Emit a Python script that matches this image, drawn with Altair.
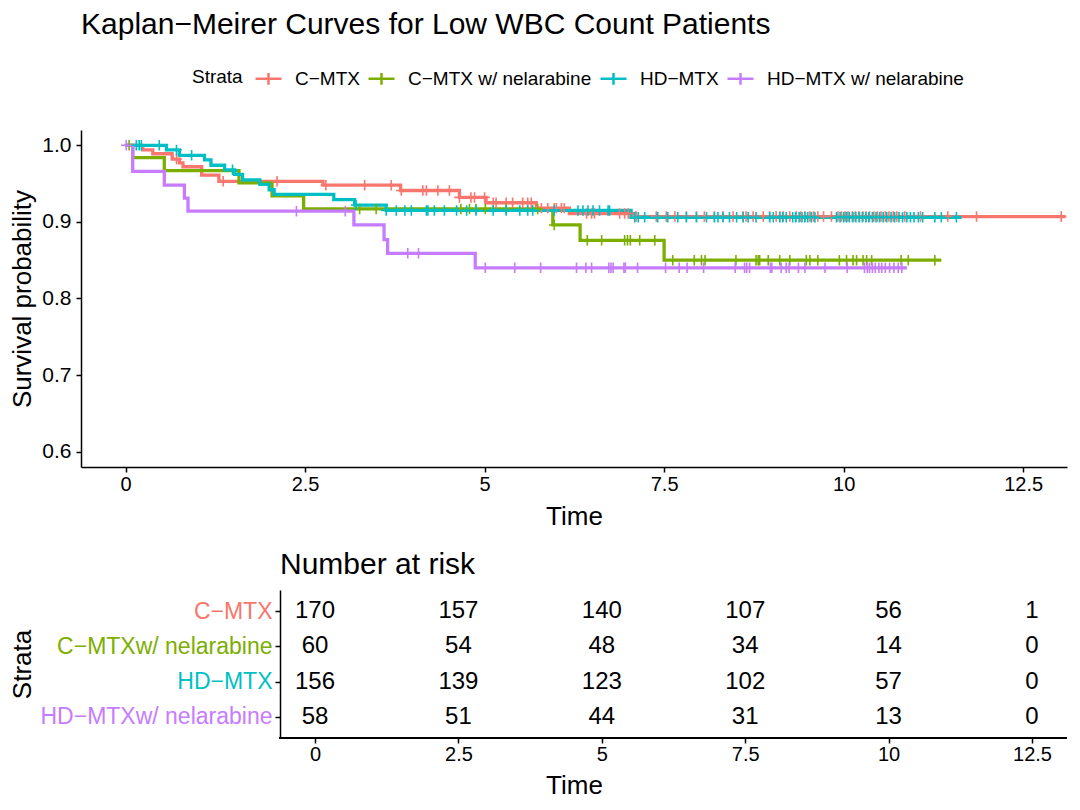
import altair as alt
import pandas as pd

STRATA = ["C−MTX", "C−MTX w/ nelarabine", "HD−MTX", "HD−MTX w/ nelarabine"]
RISK_LABELS = ["C−MTX", "C−MTXw/ nelarabine", "HD−MTX", "HD−MTXw/ nelarabine"]
COLORS = ["#F8766D", "#7CAE00", "#00BFC4", "#C77CFF"]

# Kaplan-Meier step points (time, survival)
cmtx_t = [0, 0.24, 0.38, 0.65, 0.75, 0.80, 1.06, 1.30, 2.75, 3.83, 4.65, 5.02, 5.72, 6.18, 7.10]
cmtx_s = [1.0, 0.994, 0.989, 0.982, 0.977, 0.972, 0.961, 0.953, 0.948, 0.941, 0.932, 0.925, 0.918, 0.911, 0.907]
cmtx_end = 13.09

cnel_t = [0, 0.10, 0.54, 1.58, 2.04, 2.48, 5.95, 6.33, 7.50]
cnel_s = [1.0, 0.984, 0.967, 0.951, 0.934, 0.917, 0.896, 0.876, 0.850]
cnel_end = 11.36

hd_t = [0, 0.57, 0.75, 1.10, 1.19, 1.38, 1.52, 1.63, 1.87, 2.00, 2.07, 2.90, 3.19, 3.63, 7.04]
hd_s = [1.0, 0.994, 0.987, 0.981, 0.974, 0.968, 0.962, 0.955, 0.949, 0.942, 0.936, 0.929, 0.922, 0.915, 0.906]
hd_end = 11.64

hdnel_t = [0, 0.10, 0.54, 0.82, 0.87, 3.18, 3.60, 3.65, 4.87]
hdnel_s = [1.0, 0.966, 0.948, 0.931, 0.914, 0.896, 0.877, 0.859, 0.840]
hdnel_end = 10.88

# censoring times
cmtx_c = [0.71, 1.36, 2.11, 2.79, 3.33, 3.70, 3.84, 4.14, 4.19, 4.35, 4.51, 4.65, 4.81, 4.86,
          5.00, 5.12, 5.16, 5.30, 5.39, 5.53, 5.60, 5.65, 5.79, 5.88, 5.97, 6.00, 6.07, 6.11,
          6.42, 6.49, 6.53, 6.88, 6.95, 7.00, 7.11, 7.39, 7.53, 7.65, 7.81, 7.95, 8.06, 8.20,
          8.32, 8.46, 8.60, 8.64, 8.74, 8.88, 8.97, 9.06, 9.11, 9.16, 9.25, 9.34, 9.40, 9.46,
          9.53, 9.58, 9.64, 9.72, 9.83, 9.92, 9.97, 10.02, 10.06, 10.12, 10.16, 10.21, 10.27,
          10.31, 10.36, 10.42, 10.47, 10.52, 10.58, 10.63, 10.69, 10.74, 10.85, 11.07, 11.45,
          11.85, 13.03]
cnel_c = [0.05, 3.26, 3.49, 4.67, 4.79, 4.88, 5.01, 5.30, 5.74, 5.97, 6.43, 6.63, 6.95, 6.99,
          7.03, 7.16, 7.37, 7.62, 7.92, 8.02, 8.07, 8.50, 8.78, 8.81, 8.83, 8.95, 9.11, 9.25,
          9.48, 9.53, 9.64, 9.94, 10.04, 10.13, 10.18, 10.27, 10.32, 10.39, 10.80, 10.90, 11.27]
hd_c = [0.15, 0.19, 0.22, 0.47, 0.71, 0.92, 1.49, 3.21, 3.63, 3.77, 3.89, 3.98, 4.19, 4.21,
        4.30, 4.44, 4.61, 4.75, 4.88, 5.12, 5.30, 5.49, 5.60, 5.67, 5.97, 6.30, 6.37, 6.44,
        6.51, 6.60, 6.72, 6.74, 7.09, 7.14, 7.23, 7.41, 7.55, 7.69, 7.81, 7.95, 8.09, 8.20,
        8.25, 8.32, 8.41, 8.51, 8.60, 8.67, 8.78, 8.97, 9.02, 9.11, 9.15, 9.20, 9.29, 9.33,
        9.38, 9.42, 9.46, 9.50, 9.55, 9.60, 9.90, 9.95, 10.00, 10.04, 10.08, 10.13, 10.17,
        10.22, 10.26, 10.31, 10.35, 10.40, 10.45, 10.50, 10.55, 10.60, 10.66, 10.71, 10.77,
        10.82, 10.88, 10.93, 10.98, 11.04, 11.10, 11.27, 11.36, 11.57]
hdnel_c = [0.01, 2.38, 3.06, 3.93, 4.08, 5.01, 5.42, 5.78, 6.28, 6.41, 6.49, 6.73, 6.76, 6.79,
           6.94, 6.96, 7.13, 7.52, 7.71, 7.82, 8.05, 8.49, 8.62, 8.65, 8.69, 8.98, 9.00, 9.13,
           9.20, 9.24, 9.37, 9.46, 9.74, 10.05, 10.29, 10.33, 10.36, 10.40, 10.44, 10.49,
           10.53, 10.58, 10.64, 10.70, 10.76, 10.81]

# number at risk table
RISK_TIMES = [0, 2.5, 5, 7.5, 10, 12.5]
risk_cmtx = [170, 157, 140, 107, 56, 1]
risk_cnel = [60, 54, 48, 34, 14, 0]
risk_hd = [156, 139, 123, 102, 57, 0]
risk_hdnel = [58, 51, 44, 31, 13, 0]

X_TICKS = [0, 2.5, 5, 7.5, 10, 12.5]
Y_TICKS = [0.6, 0.7, 0.8, 0.9, 1.0]

curves = [
    (STRATA[0], cmtx_t, cmtx_s, cmtx_end, cmtx_c),
    (STRATA[1], cnel_t, cnel_s, cnel_end, cnel_c),
    (STRATA[2], hd_t, hd_s, hd_end, hd_c),
    (STRATA[3], hdnel_t, hdnel_s, hdnel_end, hdnel_c),
]


def surv_at(ts, ss, t):
    val = ss[0]
    for ti, si in zip(ts, ss):
        if ti <= t:
            val = si
    return val


step_rows, cens_rows = [], []
for k, (name, ts, ss, end, cs) in enumerate(curves):
    for ti, si in zip(ts, ss):
        step_rows.append({"strata": name, "time": ti, "surv": si, "k": k})
    step_rows.append({"strata": name, "time": end, "surv": ss[-1], "k": k})
    for c in cs:
        cens_rows.append({"strata": name, "time": c, "surv": surv_at(ts, ss, c), "k": k})
steps = pd.DataFrame(step_rows)
cens = pd.DataFrame(cens_rows)

risk_rows = []
for lab, vals in zip(RISK_LABELS, [risk_cmtx, risk_cnel, risk_hd, risk_hdnel]):
    for t, n in zip(RISK_TIMES, vals):
        risk_rows.append({"label": lab, "time": t, "n": n})
risk = pd.DataFrame(risk_rows)

FONT = "Liberation Sans"
PLUS = "M-1,0L1,0M0,-1L0,1"
X_MIN, X_MAX = -0.62, 13.11
TABLE_X_MIN = -4.08          # table panel starts further right: extra room for row labels
TABLE_AXIS_SHIFT = -199      # y axis of the table moved inside to the x = -0.62 position
LBL = "format(datum.value, '~g')"

legend = alt.Legend(
    orient="none", legendX=111, legendY=-66, direction="horizontal",
    title="Strata", titleOrient="left", titleFontSize=19, titleFontWeight="normal",
    titleFont=FONT, titleColor="black", titlePadding=11, titleAnchor="middle",
    titleBaseline="middle",
    labelFontSize=19, labelFont=FONT, labelColor="black", labelOffset=12, labelLimit=400,
    columnPadding=3, symbolType="M-1,0L1,0M0,-0.45L0,0.45", symbolSize=676,
    symbolStrokeWidth=2.5,
)

color = alt.Color("strata:N", scale=alt.Scale(domain=STRATA, range=COLORS), legend=legend)
x_enc = alt.X("time:Q", scale=alt.Scale(domain=[X_MIN, X_MAX], nice=False, zero=False),
              axis=alt.Axis(values=X_TICKS, labelExpr=LBL, title="Time", labelPadding=2,
                            titlePadding=9))
y_enc = alt.Y("surv:Q", scale=alt.Scale(domain=[0.58, 1.02], nice=False, zero=False),
              axis=alt.Axis(values=Y_TICKS, format=".1f", title="Survival probability",
                            labelPadding=5, titlePadding=6, labelFontSize=21))

lines = alt.Chart(steps).mark_line(interpolate="step-after", strokeWidth=3.3, clip=True).encode(
    x=x_enc, y=y_enc, color=color, detail="k:O"
)
points = alt.Chart(cens).mark_point(shape=PLUS, size=110, strokeWidth=1.6, filled=False,
                                    opacity=1, clip=True).encode(
    x=x_enc, y=y_enc, color=color
)

main = alt.layer(lines, points).properties(
    width=986, height=337,
    title=alt.TitleParams("Kaplan−Meirer Curves for Low WBC Count Patients", anchor="start",
                          frame="group", fontSize=30, fontWeight="normal", font=FONT,
                          color="black", offset=90),
)

label_color = {
    "condition": [
        {"test": f"datum.value === '{RISK_LABELS[0]}'", "value": COLORS[0]},
        {"test": f"datum.value === '{RISK_LABELS[1]}'", "value": COLORS[1]},
        {"test": f"datum.value === '{RISK_LABELS[2]}'", "value": COLORS[2]},
    ],
    "value": COLORS[3],
}

tx = alt.X("time:Q", scale=alt.Scale(domain=[TABLE_X_MIN, X_MAX], nice=False, zero=False),
           axis=alt.Axis(values=X_TICKS, labelExpr=LBL, title="Time", domain=False,
                         labelPadding=1, titlePadding=8))
ty = alt.Y("label:N", scale=alt.Scale(type="point", domain=RISK_LABELS, padding=0.6),
           axis=alt.Axis(title="Strata", labelFontSize=23, labelColor=label_color,
                         labelLimit=400, offset=TABLE_AXIS_SHIFT, labelPadding=3,
                         titleX=-245, titleY=74))

numbers = alt.Chart(risk).mark_text(fontSize=24, font=FONT, color="black").encode(
    x=tx, y=ty, text="n:Q",
)
baseline = alt.Chart(risk).mark_rule(color="black", strokeWidth=1.5).encode(
    x=alt.datum(X_MIN), x2=alt.datum(X_MAX), y=alt.value(148)
)

table = alt.layer(numbers, baseline).properties(
    width=986, height=148,
    title=alt.TitleParams("Number at risk", anchor="start", frame="group", fontSize=30,
                          fontWeight="normal", font=FONT, color="black", offset=10,
                          dx=199),
)

chart = alt.vconcat(main, table, spacing=21).properties(
    padding={"left": 1, "top": 2, "right": 0, "bottom": 2}
).configure_axis(
    labelFont=FONT, titleFont=FONT, labelColor="black", titleColor="black",
    labelFontSize=20, titleFontSize=26, titleFontWeight="normal", grid=False,
    domainColor="black", domainWidth=1.5, tickColor="black", tickWidth=1.5, tickSize=5,
).configure_view(stroke=None)

chart.save("out.html", embed_options={"renderer": "svg", "actions": False})
